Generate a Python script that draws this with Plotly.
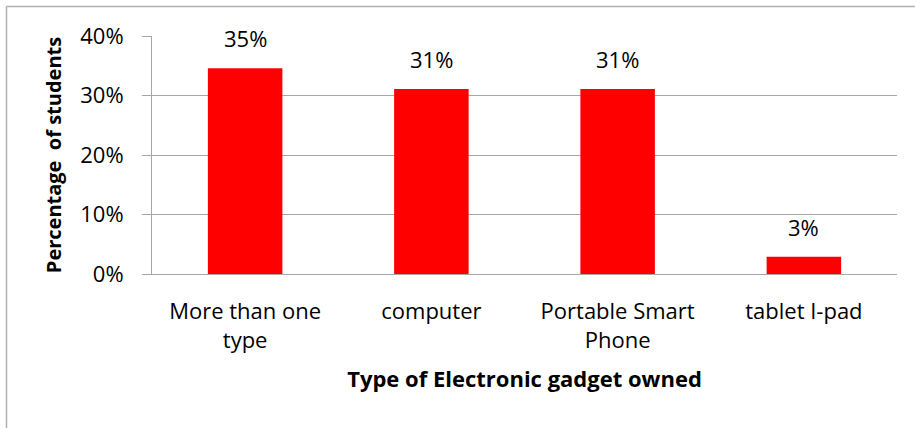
import plotly.graph_objects as go

categories = ["More than one<br>type", "computer", "Portable Smart<br>Phone", "tablet I-pad"]
values = [0.346, 0.311, 0.311, 0.029]
value_labels = ["35%", "31%", "31%", "3%"]
y_ticks = [0, 0.1, 0.2, 0.3, 0.4]
y_tick_labels = ["0%", "10%", "20%", "30%", "40%"]

FONT = "Open Sans, sans-serif"
FS = 22

fig = go.Figure(go.Bar(
    x=categories, y=values,
    marker=dict(color="#ff0000", line=dict(width=0)),
    hoverinfo="skip",
))

for c, v, t in zip(categories, values, value_labels):
    fig.add_annotation(x=c, y=v, text=t, showarrow=False, yanchor="bottom",
                       yshift=13, font=dict(family=FONT, size=FS, color="#000000"))

W, H = 915, 428
L, R, T, B = 152, 897, 36, 274
pw, ph = R - L, B - T

def px(x):
    return (x - L) / pw

def py(y):
    return (B - y) / ph

fig.update_layout(
    width=W, height=H,
    margin=dict(l=L, r=W - R, t=T, b=H - B, pad=0),
    paper_bgcolor="white", plot_bgcolor="white",
    bargap=0.6, showlegend=False,
    font=dict(family=FONT, size=FS, color="#000000"),
    xaxis=dict(
        showline=True, linecolor="#a6a6a6", linewidth=1,
        ticks="", tickfont=dict(family=FONT, size=FS, color="#000000"),
        ticklabelstandoff=18,
        title=dict(text="<b>Type of Electronic gadget owned</b>",
                   font=dict(family=FONT, size=22, color="#000000"), standoff=18),
    ),
    yaxis=dict(
        range=[0, 0.4], tickvals=y_ticks, ticktext=y_tick_labels,
        showgrid=True, gridcolor="#a6a6a6", gridwidth=1,
        showline=True, linecolor="#a6a6a6", linewidth=1,
        ticks="outside", ticklen=9, tickcolor="#a6a6a6",
        tickfont=dict(family=FONT, size=FS, color="#000000"),
        ticklabelstandoff=14,
        zeroline=False,
        title=dict(text="<b>Percentage  of students</b>",
                   font=dict(family=FONT, size=20, color="#000000"), standoff=13),
    ),
    shapes=[
        dict(type="line", xref="paper", yref="paper",
             x0=px(6.5), x1=px(915), y0=py(6.5), y1=py(6.5),
             line=dict(color="#b0b0b0", width=1.5)),
        dict(type="line", xref="paper", yref="paper",
             x0=px(6.5), x1=px(6.5), y0=py(6.5), y1=py(428),
             line=dict(color="#b0b0b0", width=1.5)),
    ],
)

fig.write_html("out.html", config={"displayModeBar": False},
               post_script="document.body.style.margin='0';")
